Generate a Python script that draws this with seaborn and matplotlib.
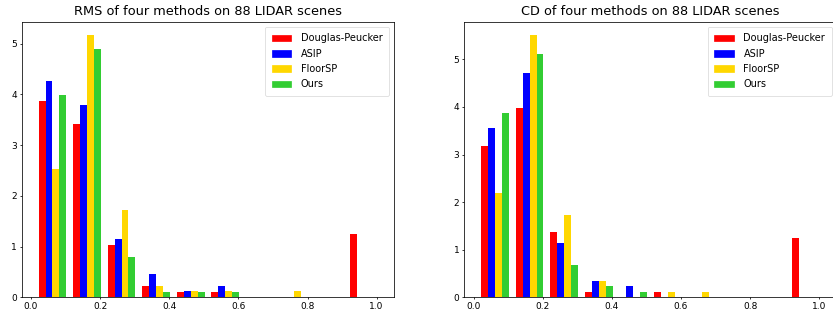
import numpy as np
import pandas as pd
import matplotlib
matplotlib.use("Agg")
import matplotlib.pyplot as plt
from matplotlib.patches import Patch
import seaborn as sns

# ------------------------------------------------------------
# data: scene counts per error bin (88 LIDAR scenes)
# ------------------------------------------------------------
METHODS = ["Douglas-Peucker", "ASIP", "FloorSP", "Ours"]
COLORS = ["red", "blue", "gold", "limegreen"]

BIN_EDGES = [0.012, 0.112, 0.212, 0.312, 0.412, 0.512, 0.612, 0.712, 0.812, 0.912, 1.012]

RMS_DP = [34, 30, 9, 2, 1, 1, 0, 0, 0, 11]
RMS_ASIP = [37, 33, 10, 4, 1, 2, 0, 0, 0, 0]
RMS_FLOORSP = [22, 45, 15, 2, 1, 1, 0, 1, 0, 0]
RMS_OURS = [35, 43, 7, 1, 1, 1, 0, 0, 0, 0]

CD_DP = [28, 35, 12, 1, 0, 1, 0, 0, 0, 11]
CD_ASIP = [31, 41, 10, 3, 2, 0, 0, 0, 0, 0]
CD_FLOORSP = [19, 48, 15, 3, 0, 1, 1, 0, 0, 0]
CD_OURS = [34, 45, 6, 2, 1, 0, 0, 0, 0, 0]

TITLES = ["RMS of four methods on 88 LIDAR scenes",
          "CD of four methods on 88 LIDAR scenes"]


def to_long(counts_per_method):
    edges = np.asarray(BIN_EDGES)
    centers = (edges[:-1] + edges[1:]) / 2
    rows = []
    for name, counts in zip(METHODS, counts_per_method):
        for c, n in zip(centers, counts):
            rows.append({"error": c, "count": n, "method": name})
    return pd.DataFrame(rows)


panels = [
    to_long([RMS_DP, RMS_ASIP, RMS_FLOORSP, RMS_OURS]),
    to_long([CD_DP, CD_ASIP, CD_FLOORSP, CD_OURS]),
]

plt.rcParams["font.size"] = 13
plt.rcParams["axes.titlesize"] = 18.5
plt.rcParams["axes.linewidth"] = 1.1
plt.rcParams["xtick.major.width"] = 1.1
plt.rcParams["ytick.major.width"] = 1.1

# image looks like a downscaled default matplotlib figure
fig = plt.figure(figsize=(16.66, 6.3), dpi=50)
ax_rects = [[0.026, 0.0562, 0.4473, 0.875],
            [0.5574, 0.0562, 0.4473, 0.875]]

for rect, df, title in zip(ax_rects, panels, TITLES):
    ax = fig.add_axes(rect)
    sns.histplot(data=df, x="error", weights="count", hue="method",
                 hue_order=METHODS, palette=COLORS, bins=BIN_EDGES,
                 stat="density", common_norm=False, multiple="dodge",
                 shrink=0.8, alpha=1, linewidth=0, legend=False, ax=ax)
    ax.set_xlabel(""); ax.set_ylabel("")
    ax.set_title(title, pad=9)
    ax.set_xticks([0.0, 0.2, 0.4, 0.6, 0.8, 1.0])
    handles = [Patch(color=c, label=m) for m, c in zip(METHODS, COLORS)]
    ax.legend(handles=handles, loc="upper right", fontsize=14,
              borderpad=0.7, labelspacing=0.55, handletextpad=1.0)

fig.savefig("out.png", dpi=50)
